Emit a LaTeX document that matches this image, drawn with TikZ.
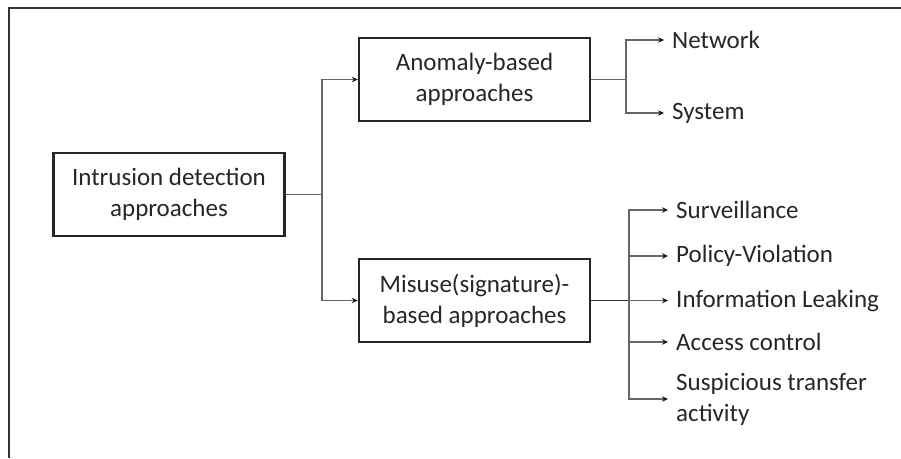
\documentclass[tikz,border=0pt]{standalone}
\usepackage{fontspec}
\setmainfont{Carlito}
\usepackage{tikz}
\usetikzlibrary{positioning,arrows.meta}

\begin{document}
\begin{tikzpicture}[
  x=1pt, y=-1pt, >={Stealth[length=6pt,width=5.5pt,color=black!90]},
  font=\fontsize{25}{31}\selectfont, text=black!85,
  box/.style={draw=black!85, line width=2.4pt, align=center,
              minimum width=231pt, minimum height=83pt, inner sep=2pt},
  leaf/.style={anchor=west, align=left, inner xsep=8pt, inner ysep=0pt},
  arr/.style={->, line width=1.2pt, color=black!60},
  link/.style={line width=1.2pt, color=black!60},
]
\useasboundingbox (0,0) rectangle (901,458);
% frame of the screenshot
\draw[line width=1.3pt, black!80] (9,458) -- (9,8) -- (901,8);

\node[box] (root) at (169,194.5) {Intrusion detection\\approaches};
\node[box] (anom) at (474.5,79.5) {Anomaly-based\\approaches};
\node[box] (mis)  at (474.5,300.5) {Misuse(signature)-\\based approaches};

\node[leaf] (net) at (664,40)  {Network};
\node[leaf] (sys) at (664,113) {System};

\node[leaf] (surv) at (668,210) {Surveillance};
\node[leaf] (pol)  at (668,256) {Policy-Violation};
\node[leaf] (info) at (668,300.5) {Information Leaking};
\node[leaf] (acc)  at (668,342) {Access control};
\node[leaf] (susp) at (668,399) {Suspicious transfer\\activity};

\coordinate (rj) at (322,194.5);
\coordinate (aj) at (626,79.5);
\coordinate (mj) at (629,300.5);

% root -> approaches
\draw[link] (root.east) -- (rj);
\draw[arr] (rj) |- (anom.west);
\draw[arr] (rj) |- (mis.west);

% anomaly
\draw[link] (anom.east) -- (aj);
\draw[arr] (aj) |- (net.west);
\draw[arr] (aj) |- (sys.west);

% misuse
\draw[link, black!80] (mis.east) -- (mj);
\draw[arr] (mj) |- (surv.west);
\draw[arr] (mj) |- (pol.west);
\draw[arr] (mj) -- (info.west);
\draw[arr] (mj) |- (acc.west);
\draw[arr] (mj) |- (susp.west);
\end{tikzpicture}
\end{document}
